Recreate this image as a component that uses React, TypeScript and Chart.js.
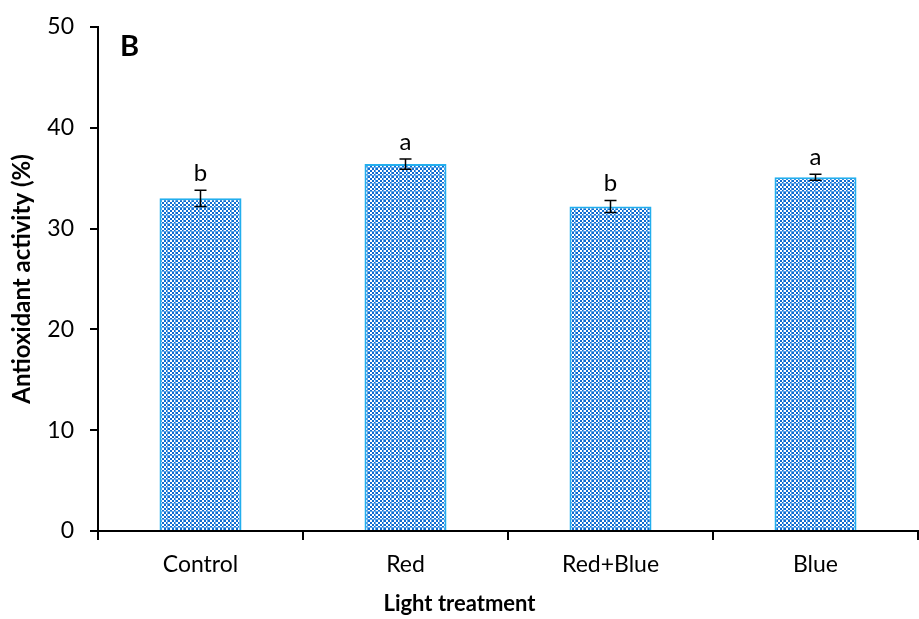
import React, { useEffect, useRef } from "react";
import { Chart, registerables } from "chart.js";

Chart.register(...registerables);

const categories = ["Control", "Red", "Red+Blue", "Blue"];
const values = [33.0, 36.4, 32.2, 35.1];
const errors = [0.8, 0.5, 0.6, 0.3];
const letters = ["b", "a", "b", "a"];
const yTicks = [0, 10, 20, 30, 40, 50];
const xTitle = "Light treatment";
const yTitle = "Antioxidant activity (%)";
const panelLabel = "B";

const FONT = "Lato, 'Open Sans', sans-serif";

function makePattern(): CanvasPattern | string {
  const c = document.createElement("canvas");
  c.width = 8;
  c.height = 8;
  const g = c.getContext("2d");
  if (!g) return "#3c86d6";
  for (let y = 0; y < 8; y++) {
    for (let x = 0; x < 8; x++) {
      let col = (Math.floor(x / 2) + Math.floor(y / 2)) % 2 === 0 ? "#0f6cd0" : "#ffffff";
      if (x === 7 || y === 7) col = "#62a8ea";
      g.fillStyle = col;
      g.fillRect(x, y, 1, 1);
    }
  }
  const p = g.createPattern(c, "repeat");
  return p || "#3c86d6";
}

const annotPlugin = {
  id: "annot",
  afterDatasetsDraw(chart: any) {
    const ctx = chart.ctx;
    const xs = chart.scales.x;
    const ys = chart.scales.y;
    ctx.save();
    ctx.strokeStyle = "#000";
    ctx.lineWidth = 1.5;
    values.forEach((v, i) => {
      const x = xs.getPixelForValue(i);
      const yt = ys.getPixelForValue(v + errors[i]);
      const yb = ys.getPixelForValue(v - errors[i]);
      ctx.beginPath();
      ctx.moveTo(x, yt);
      ctx.lineTo(x, yb);
      ctx.moveTo(x - 6, yt);
      ctx.lineTo(x + 6, yt);
      ctx.moveTo(x - 6, yb);
      ctx.lineTo(x + 6, yb);
      ctx.stroke();
      ctx.fillStyle = "#000";
      ctx.font = `24px ${FONT}`;
      ctx.textAlign = "center";
      ctx.textBaseline = "bottom";
      ctx.fillText(letters[i], x, yt - 5);
    });
    ctx.fillStyle = "#000";
    ctx.font = `bold 29px ${FONT}`;
    ctx.textAlign = "left";
    ctx.textBaseline = "middle";
    ctx.fillText(panelLabel, chart.chartArea.left + 22, chart.chartArea.top + 20);
    ctx.font = `bold 22px ${FONT}`;
    ctx.textAlign = "center";
    ctx.textBaseline = "middle";
    ctx.fillText(xTitle, chart.width / 2, 604);
    ctx.restore();
  },
};

export default function App() {
  const ref = useRef<HTMLCanvasElement>(null);
  useEffect(() => {
    if (!ref.current) return;
    const pattern = makePattern();
    const chart = new Chart(ref.current, {
      type: "bar",
      data: {
        labels: categories,
        datasets: [
          {
            data: values,
            backgroundColor: pattern as any,
            borderColor: "#22aeee",
            borderWidth: 2,
            barPercentage: 0.4,
            categoryPercentage: 1,
          },
        ],
      },
      options: {
        animation: false,
        responsive: false,
        maintainAspectRatio: false,
        layout: { padding: { top: 27, right: 1, left: 0, bottom: 0 } },
        plugins: { legend: { display: false }, tooltip: { enabled: false } },
        scales: {
          x: {
            grid: {
              offset: true,
              drawOnChartArea: false,
              drawTicks: true,
              tickLength: 9,
              color: "#000",
              lineWidth: 2,
            },
            border: { display: true, color: "#000", width: 2 },
            ticks: { color: "#000", font: { family: FONT, size: 23 }, padding: 11 },
            afterFit(scale: any) {
              scale.height = 88;
              scale.paddingLeft = 0;
              scale.paddingRight = 0;
            },
          },
          y: {
            min: 0,
            max: 50,
            afterBuildTicks(scale: any) {
              scale.ticks = yTicks.map((v) => ({ value: v }));
            },
            grid: {
              drawOnChartArea: false,
              drawTicks: true,
              tickLength: 8,
              color: "#000",
              lineWidth: 2,
            },
            border: { display: true, color: "#000", width: 2 },
            ticks: { color: "#000", font: { family: FONT, size: 23 }, padding: 16 },
            title: {
              display: true,
              text: yTitle,
              color: "#000",
              font: { family: FONT, size: 24, weight: "bold" },
              padding: { top: 8, bottom: 0 },
            },
            afterFit(scale: any) {
              scale.width = 98;
              scale.paddingTop = 0;
              scale.paddingBottom = 0;
            },
          },
        },
      },
      plugins: [annotPlugin],
    });
    return () => chart.destroy();
  }, []);
  return (
    <div style={{ position: "absolute", left: 0, top: 0, width: 919, height: 619, background: "#fff" }}>
      <canvas ref={ref} width={919} height={619} style={{ width: 919, height: 619 }} />
    </div>
  );
}
